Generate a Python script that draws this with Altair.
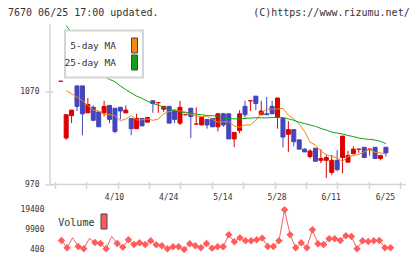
import altair as alt
import numpy as np
import pandas as pd

TITLE_LEFT = "7670 06/25 17:00 updated."
TITLE_RIGHT = "(C)https://www.rizumu.net/"

# daily candles, oldest first (yen)
opens = [1081, 1020, 1044, 1076, 1076, 1047, 1053, 1048, 1047, 1055,
         1052, 1053, 1047, 1041, 1030, 1041, 1037, 1060, 1058, 1051,
         1054, 1050, 1036, 1045, 1052, 1035, 1034, 1040, 1041, 1032,
         1046, 1046, 1019, 1028, 1054, 1060, 1065, 1045, 1046, 1054,
         1042, 1041, 1024, 1029, 1018, 1008, 1000, 1009, 996, 996,
         983, 996, 999, 994, 1003, 1008, 1010, 1008, 1010, 998, 1010]
highs = [1081, 1045, 1050, 1076, 1076, 1063, 1055, 1048, 1060, 1055,
         1052, 1053, 1055, 1041, 1046, 1041, 1042, 1060, 1058, 1054,
         1054, 1050, 1060, 1045, 1052, 1053, 1042, 1040, 1041, 1047,
         1047, 1046, 1026, 1050, 1060, 1060, 1065, 1060, 1064, 1060,
         1063, 1041, 1038, 1029, 1018, 1009, 1008, 1009, 1008, 1002,
         1002, 1007, 1022, 1006, 1011, 1008, 1010, 1008, 1010, 1002, 1010]
lows = [1081, 1018, 1036, 1049, 1023, 1047, 1039, 1032, 1043, 1036,
        1025, 1040, 1047, 1023, 1030, 1033, 1037, 1047, 1047, 1048,
        1036, 1036, 1034, 1045, 1020, 1035, 1034, 1030, 1032, 1027,
        1032, 1019, 1010, 1025, 1042, 1049, 1050, 1045, 1045, 1046,
        1030, 1010, 1005, 1011, 1008, 1005, 998, 995, 993, 977,
        980, 984, 982, 994, 1003, 1004, 999, 1001, 998, 996, 1000]
closes = [1081, 1045, 1050, 1054, 1046, 1056, 1039, 1032, 1054, 1040,
          1027, 1049, 1050, 1030, 1041, 1033, 1042, 1057, 1058, 1054,
          1036, 1040, 1053, 1045, 1043, 1035, 1042, 1034, 1032, 1046,
          1034, 1019, 1026, 1046, 1045, 1060, 1057, 1049, 1045, 1046,
          1063, 1021, 1029, 1016, 1008, 1005, 1006, 995, 998, 999,
          996, 986, 1022, 1001, 1008, 1008, 999, 1008, 998, 1001, 1004]

# moving averages and volume, from the second session on
ma5 = [1071, 1067.5, 1064, 1060, 1055, 1050, 1049, 1045.5, 1045, 1044,
       1038.5, 1040.5, 1044, 1039.5, 1039.5, 1040.5, 1039, 1040.5, 1046, 1048.5,
       1049.5, 1049, 1048, 1045.5, 1043.5, 1043, 1043.5, 1040, 1037, 1037.5,
       1037.5, 1033, 1031.5, 1034, 1034, 1039, 1047, 1051, 1051, 1051,
       1052, 1044.5, 1040.5, 1035, 1027, 1015.5, 1012.5, 1006, 1002, 1000.5,
       998.5, 995, 1000, 1001, 1002.5, 1005, 1007.5, 1004.5, 1004, 1002.5]
ma25 = [1141, 1133, 1125, 1117, 1109, 1101, 1093, 1086, 1083, 1080.5,
        1076, 1072, 1068.5, 1065, 1062.5, 1059.5, 1057, 1055.5, 1053, 1050.5,
        1049.2, 1048, 1047.2, 1046.7, 1045.6, 1045, 1044.2, 1043.9, 1043.5, 1041.5,
        1040.6, 1040.6, 1040.6, 1041, 1041.5, 1041.7, 1041.7, 1041.7, 1041.9, 1042.4,
        1042, 1040.6, 1039, 1037, 1035.5, 1034, 1032.5, 1030.3, 1028.5, 1026.4,
        1025.3, 1024.3, 1022.7, 1021.5, 1020, 1019, 1018.5, 1017.8, 1016.4, 1014]
volume = [4560, 1070, 5860, 1690, 590, 5520, 3610, 3130, 590, 6480,
          3130, 1360, 4900, 2650, 3460, 2650, 4420, 2510, 2030, 590,
          1550, 1550, 200, 2980, 2030, 1070, 3130, 880, 1550, 1550,
          7290, 3940, 5860, 4420, 4420, 4900, 5670, 1690, 1690, 4420,
          19300, 7290, 1070, 3460, 1070, 9690, 2980, 2650, 5380, 5380,
          4560, 6810, 6480, 590, 4420, 4090, 4420, 4560, 1070, 1070]
# sessions whose volume point is drawn without a marker
unmarked_days = [3, 6, 10]

date_ticks = [10, 20, 30, 40, 50, 60]
date_labels = ["4/10", "4/24", "5/14", "5/28", "6/11", "6/25"]
price_ticks = [970, 1070]
volume_ticks = [400, 9900, 19400]
ma_names = ["5-day MA", "25-day MA"]

days = list(range(len(opens)))
candles = pd.DataFrame({"day": days, "open": opens, "high": highs,
                        "low": lows, "close": closes})
candles["top"] = candles[["open", "close"]].max(axis=1)
candles["bot"] = candles[["open", "close"]].min(axis=1)
candles["dir"] = np.where(candles["close"] >= candles["open"], "up", "down")

ma_df = pd.DataFrame({"day": days[1:], "ma5": ma5, "ma25": ma25})
vol_df = pd.DataFrame({"day": days[1:], "volume": volume})
marker_df = vol_df[~vol_df["day"].isin(unmarked_days)]
one = pd.DataFrame({"k": [0]})

# styling
FONT = "DejaVu Sans Mono"
RED, BLUE = "#dd0000", "#4444bb"
ORANGE, GREEN = "#f08a10", "#14a014"
VOL_C = "#ff5c5c"
AXIS_C = "#d4d4d4"
TXT = "#333333"

PLOT_W, PLOT_H, VOL_H = 356, 160, 42
DAY_PX = 5.576
X_LO = -5.92 / DAY_PX
X_HI = X_LO + PLOT_W / DAY_PX
grid_ticks = [X_LO + k * 32.27 / DAY_PX for k in range(12)]

xs = alt.Scale(domain=[X_LO, X_HI], nice=False, zero=False)
ys = alt.Scale(domain=[970, 1142], nice=False, zero=False)
vs = alt.Scale(domain=[0, 20100], nice=False, zero=False)
dir_scale = alt.Scale(domain=["up", "down"], range=[RED, BLUE])

label_expr = "[{}][indexof([{}], datum.value)]".format(
    ",".join("'%s'" % s for s in date_labels), ",".join(str(d) for d in date_ticks))

tick_axis = alt.Axis(values=grid_ticks, labels=False, tickSize=7, tickWidth=1.5,
                     tickColor=AXIS_C, domain=False, offset=-3, orient="bottom",
                     title=None, grid=False)
date_axis = alt.Axis(values=date_ticks, labelExpr=label_expr, ticks=False, domain=False,
                     orient="bottom", title=None, labelPadding=9, labelOffset=-1,
                     labelFont=FONT, labelFontSize=8, labelColor=TXT, grid=False)
price_axis = alt.Axis(values=price_ticks, tickSize=8, tickWidth=1.5, tickColor=AXIS_C,
                      domain=False, offset=-3, title=None, labelPadding=6, format="d",
                      orient="left", labelFont=FONT, labelFontSize=8, labelColor=TXT,
                      grid=False)
vol_axis = alt.Axis(values=volume_ticks, ticks=False, domain=False, title=None,
                    labelPadding=6, format="d", orient="left", labelFont=FONT,
                    labelFontSize=8, labelColor=TXT, grid=False)

base = alt.Chart(candles)

wicks = base.mark_rule(strokeWidth=1).encode(
    x=alt.X("day:Q", scale=xs, axis=tick_axis),
    y=alt.Y("low:Q", scale=ys, axis=price_axis),
    y2="high:Q",
    color=alt.Color("dir:N", scale=dir_scale, legend=None),
)
bodies = base.mark_bar(size=4, strokeWidth=1).encode(
    x=alt.X("day:Q", scale=xs, axis=None),
    y=alt.Y("bot:Q", scale=ys, axis=None),
    y2="top:Q",
    fill=alt.Fill("dir:N", scale=dir_scale, legend=None),
    stroke=alt.Stroke("dir:N", scale=dir_scale, legend=None),
)
ma5_line = alt.Chart(ma_df).mark_line(color=ORANGE, strokeWidth=1).encode(
    x=alt.X("day:Q", scale=xs, axis=date_axis),
    y=alt.Y("ma5:Q", scale=ys, axis=None),
)
ma25_line = alt.Chart(ma_df).mark_line(color=GREEN, strokeWidth=1).encode(
    x=alt.X("day:Q", scale=xs, axis=None),
    y=alt.Y("ma25:Q", scale=ys, axis=None),
)

# axis lines
left_line = alt.Chart(one).mark_rule(color=AXIS_C, strokeWidth=1.5).encode(
    x=alt.value(0), y=alt.value(0), y2=alt.value(PLOT_H))
bottom_line = alt.Chart(one).mark_rule(color=AXIS_C, strokeWidth=1.5).encode(
    x=alt.value(0), x2=alt.value(PLOT_W), y=alt.value(PLOT_H))

# moving-average key
key_box = alt.Chart(one).mark_rect(fill="white", stroke=AXIS_C, strokeWidth=2).encode(
    x=alt.value(15), x2=alt.value(93), y=alt.value(6), y2=alt.value(53))
key_layers = [key_box]
for name, col, ty in zip(ma_names, [ORANGE, GREEN], [21, 38]):
    key_layers.append(alt.Chart(one).mark_text(
        text=name, font=FONT, fontSize=9.5, color=TXT, align="right", baseline="middle"
    ).encode(x=alt.value(66), y=alt.value(ty)))
    key_layers.append(alt.Chart(one).mark_rect(fill=col, stroke="#444444", strokeWidth=1).encode(
        x=alt.value(81.5), x2=alt.value(87.5), y=alt.value(ty - 7.5), y2=alt.value(ty + 7.5)))

title_l = alt.Chart(one).mark_text(text=TITLE_LEFT, font=FONT, fontSize=10, color=TXT,
                                   align="left", baseline="middle").encode(
    x=alt.value(-42), y=alt.value(-11.5))
title_r = alt.Chart(one).mark_text(text=TITLE_RIGHT, font=FONT, fontSize=10, color=TXT,
                                   align="right", baseline="middle").encode(
    x=alt.value(359.7), y=alt.value(-11.5))

price = alt.layer(
    left_line, bottom_line, wicks, bodies, ma5_line, ma25_line,
    *key_layers, title_l, title_r
).resolve_axis(x="independent", y="independent").properties(width=PLOT_W, height=PLOT_H)

vol_line = alt.Chart(vol_df).mark_line(color=VOL_C, strokeWidth=1).encode(
    x=alt.X("day:Q", scale=xs, axis=None),
    y=alt.Y("volume:Q", scale=vs, axis=vol_axis),
)
vol_pts = alt.Chart(marker_df).mark_point(shape="diamond", filled=True, size=55,
                                          color=VOL_C, opacity=1).encode(
    x=alt.X("day:Q", scale=xs, axis=None),
    y=alt.Y("volume:Q", scale=vs, axis=None),
)
vol_text = alt.Chart(one).mark_text(text="Volume", font=FONT, fontSize=10, color=TXT,
                                    align="left", baseline="middle").encode(
    x=alt.value(8.3), y=alt.value(14.7))
vol_key = alt.Chart(one).mark_rect(fill=VOL_C, stroke="#444444", strokeWidth=1).encode(
    x=alt.value(51), x2=alt.value(57), y=alt.value(6), y2=alt.value(21))

vol = alt.layer(vol_line, vol_pts, vol_text, vol_key).resolve_axis(
    y="independent").properties(width=PLOT_W, height=VOL_H)

chart = alt.vconcat(price, vol, spacing=23.5, bounds="flush").properties(
    padding={"left": 8, "top": 7.5, "right": 2, "bottom": 2}
).configure_view(stroke=None)

chart.save("out.html", embed_options={"renderer": "svg", "actions": False})
